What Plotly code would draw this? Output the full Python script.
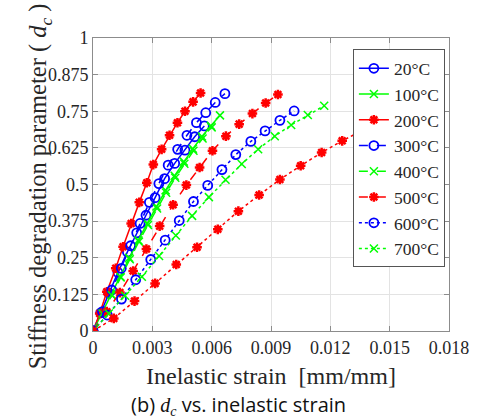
import plotly.graph_objects as go

# inelastic strain [mm/mm] and stiffness degradation d_c per temperature
x_20 = [0, 0.00039, 0.00079, 0.00126, 0.00174, 0.00221, 0.00268, 0.00314, 0.00362, 0.00413, 0.00465, 0.00514, 0.00563]
d_20 = [0, 0.062, 0.13, 0.2, 0.27, 0.335, 0.395, 0.455, 0.52, 0.572, 0.617, 0.663, 0.70]

x_100 = [0, 0.00046, 0.00092, 0.00138, 0.00183, 0.00229, 0.00275, 0.00321, 0.00367, 0.00413, 0.00459, 0.00505, 0.00551, 0.00596, 0.00642]
d_100 = [0, 0.062, 0.125, 0.186, 0.25, 0.31, 0.368, 0.425, 0.48, 0.53, 0.578, 0.622, 0.664, 0.70, 0.736]

x_200 = [0, 0.00034, 0.0007, 0.00115, 0.00152, 0.00193, 0.00234, 0.00272, 0.00305, 0.00347, 0.00387, 0.00427, 0.00465, 0.00506, 0.00544]
d_200 = [0, 0.06, 0.134, 0.214, 0.2875, 0.367, 0.439, 0.506, 0.568, 0.62, 0.668, 0.711, 0.75, 0.782, 0.8125]

x_300 = [0, 0.00048, 0.00095, 0.00143, 0.0019, 0.00238, 0.00285, 0.00333, 0.0038, 0.00428, 0.00475, 0.00523, 0.0057, 0.00618, 0.00667]
d_300 = [0, 0.066, 0.14, 0.214, 0.291, 0.367, 0.439, 0.503, 0.566, 0.62, 0.668, 0.711, 0.745, 0.78, 0.81]

x_400 = [0, 0.00048, 0.00095, 0.0014, 0.00186, 0.00232, 0.00278, 0.00324, 0.0037, 0.00416, 0.00462, 0.00508, 0.00554, 0.006]
d_400 = [0, 0.06, 0.122, 0.183, 0.245, 0.305, 0.362, 0.418, 0.472, 0.523, 0.571, 0.615, 0.657, 0.695]

x_500 = [0, 0.0007, 0.00136, 0.00203, 0.0027, 0.00337, 0.00405, 0.00472, 0.00539, 0.00604, 0.00672, 0.00739, 0.00806, 0.00873, 0.00935]
d_500 = [0, 0.066, 0.131, 0.205, 0.28, 0.358, 0.431, 0.498, 0.558, 0.615, 0.665, 0.706, 0.742, 0.778, 0.807]

x_600 = [0, 0.00072, 0.00144, 0.00216, 0.00292, 0.00365, 0.00436, 0.00508, 0.0058, 0.00652, 0.00722, 0.00798, 0.0087, 0.00945, 0.01017]
d_600 = [0, 0.0545, 0.109, 0.175, 0.244, 0.31, 0.377, 0.442, 0.497, 0.551, 0.602, 0.647, 0.683, 0.719, 0.751]

x_700 = [0, 0.0008, 0.00162, 0.00247, 0.00334, 0.00419, 0.00501, 0.00586, 0.0067, 0.00752, 0.00835, 0.00919, 0.01002, 0.01086, 0.01169]
d_700 = [0, 0.06, 0.12, 0.185, 0.256, 0.326, 0.393, 0.457, 0.516, 0.57, 0.62, 0.665, 0.703, 0.7375, 0.769]

# red dotted curve hidden partly behind the legend (no legend entry)
x_800 = [0, 0.00105, 0.0021, 0.00314, 0.00421, 0.00526, 0.00631, 0.00735, 0.0084, 0.00945, 0.0105, 0.01156, 0.0126, 0.01363]
d_800 = [0, 0.043, 0.102, 0.1625, 0.227, 0.286, 0.347, 0.409, 0.464, 0.517, 0.564, 0.609, 0.649, 0.685]

x_ticks = [0, 0.003, 0.006, 0.009, 0.012, 0.015, 0.018]
x_labels = ["0", "0.003", "0.006", "0.009", "0.012", "0.015", "0.018"]
y_ticks = [0, 0.125, 0.25, 0.375, 0.5, 0.625, 0.75, 0.875, 1]
y_labels = ["0", "0.125", "0.25", "0.375", "0.5", "0.625", "0.75", "0.875", "1"]

BLUE, GREEN, RED = "#0000ff", "#00ff00", "#ff0000"
SERIF = "Liberation Serif, Times New Roman, serif"

# (x, y, label, colour, dash, marker)
series = [
    (x_20, d_20, "20°C", BLUE, "solid", "circle-open"),
    (x_100, d_100, "100°C", GREEN, "solid", "x-thin-open"),
    (x_200, d_200, "200°C", RED, "solid", "asterisk-open"),
    (x_300, d_300, "300°C", BLUE, "dash", "circle-open"),
    (x_400, d_400, "400°C", GREEN, "dash", "x-thin-open"),
    (x_500, d_500, "500°C", RED, "dash", "asterisk-open"),
    (x_600, d_600, "600°C", BLUE, "dot", "circle-open"),
    (x_700, d_700, "700°C", GREEN, "dot", "x-thin-open"),
    (x_800, d_800, "800°C", RED, "dot", "asterisk-open"),
]

fig = go.Figure()
for xs, ys, name, color, dash, sym in series:
    if sym == "circle-open":
        mk = dict(symbol=sym, size=9, color=color, line=dict(width=1.8, color=color))
    elif sym == "asterisk-open":
        mk = dict(symbol=sym, size=8, color=color, line=dict(width=2.5, color=color))
    else:
        mk = dict(symbol=sym, size=8, color=color, line=dict(width=1.5, color=color))
    fig.add_trace(go.Scatter(
        x=xs, y=ys, mode="lines+markers", name=name,
        line=dict(color=color, width=1.5, dash=dash),
        marker=mk,
        showlegend=(name != "800°C"),
    ))

axis_style = dict(
    showgrid=True, gridcolor="#e3e3e3", zeroline=False,
    showline=True, linecolor="#8c8c8c", linewidth=1, mirror="ticks",
    ticks="inside", ticklen=5, tickcolor="#8c8c8c",
    tickfont=dict(family=SERIF, size=18, color="#262626"),
)
fig.update_xaxes(range=[0, 0.018], tickvals=x_ticks, ticktext=x_labels, **axis_style)
fig.update_yaxes(range=[0, 1], tickvals=y_ticks, ticktext=y_labels, **axis_style)

fig.add_annotation(
    text="Stiffness degradation parameter ( <i>d<sub>c</sub></i> )",
    xref="paper", yref="paper", x=-0.197, y=0.495, textangle=-90,
    showarrow=False, font=dict(family=SERIF, size=24.5, color="#262626"),
)
fig.add_annotation(
    text="Inelastic strain&nbsp; [mm/mm]",
    xref="paper", yref="paper", x=0.5, y=-0.153, yanchor="middle",
    showarrow=False, font=dict(family=SERIF, size=24, color="#262626"),
)
fig.add_annotation(
    text="(b) <i><span style='font-family:Liberation Serif'>d<sub>c</sub></span></i> vs. inelastic strain",
    xref="paper", yref="paper", x=0.41, y=-0.252, yanchor="middle",
    showarrow=False, font=dict(family="Open Sans", size=20, color="#111111"),
)

fig.update_layout(
    width=481, height=419,
    margin=dict(l=93, r=22, t=38, b=88),
    plot_bgcolor="white", paper_bgcolor="white",
    legend=dict(
        x=0.73, y=0.961, xanchor="left", yanchor="top",
        bgcolor="white", bordercolor="#555555", borderwidth=1,
        font=dict(family=SERIF, size=17.5, color="#262626"),
        tracegroupgap=0, itemwidth=30,
    ),
)

fig.write_html("out.html", config={"displayModeBar": False},
               post_script="document.body.style.margin='0';")
